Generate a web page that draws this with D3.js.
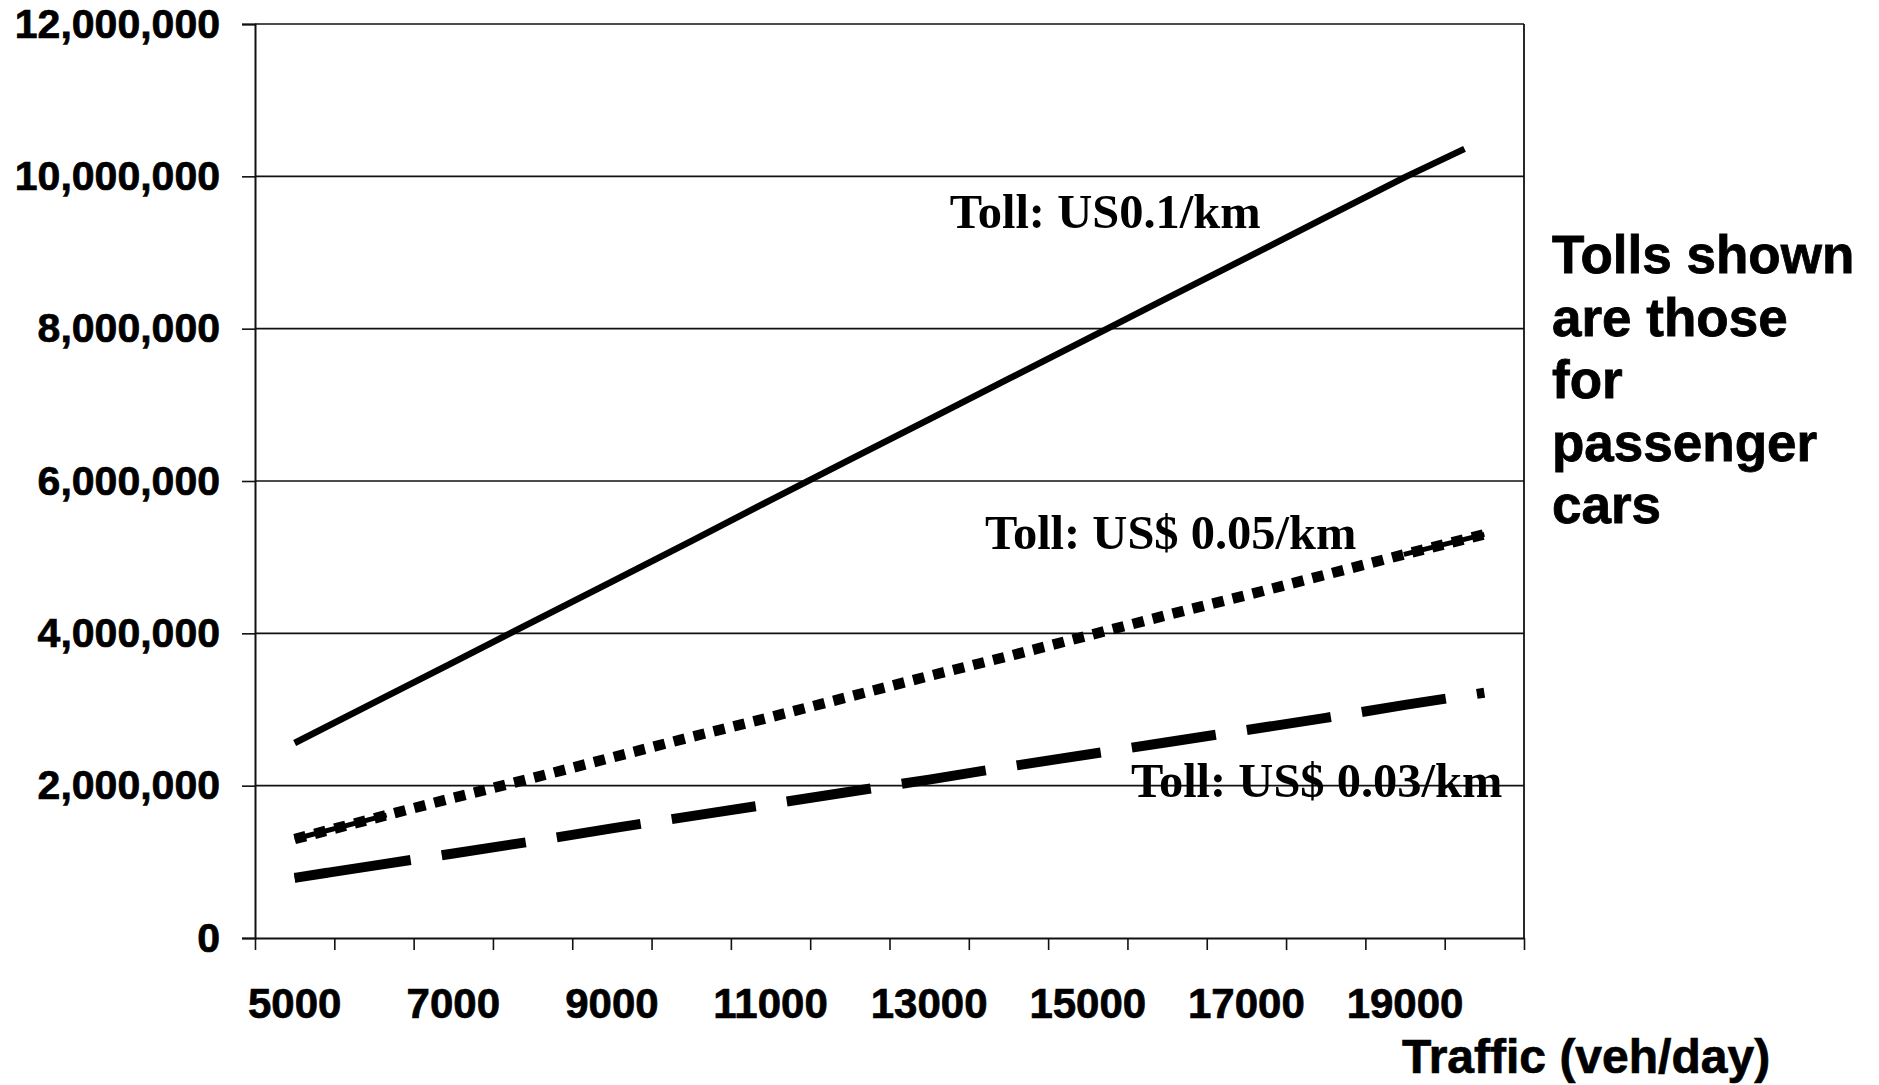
<!DOCTYPE html>
<html><head><meta charset="utf-8">
<script src="https://cdn.jsdelivr.net/npm/d3@7/dist/d3.min.js"></script>
<style>body{margin:0;background:#fff}</style>
</head><body>
<svg id="c" width="1879" height="1085"></svg>
<script>
// ---- data ----
const traffic = [5000, 6000, 7000, 8000, 9000, 10000, 11000, 12000, 13000, 14000, 15000, 16000, 17000, 18000, 19000, 20000];
const trafficToll010 = [5000, 6000, 7000, 8000, 9000, 10000, 11000, 12000, 13000, 14000, 15000, 16000, 17000, 18000, 19000, 19750];
const revenueToll010 = [2560000, 3090000, 3620000, 4150000, 4680000, 5210000, 5750000, 6280000, 6810000, 7340000, 7870000, 8400000, 8930000, 9460000, 9990000, 10360000];
const revenueToll005 = [1300000, 1570000, 1840000, 2100000, 2370000, 2640000, 2900000, 3170000, 3440000, 3700000, 3970000, 4240000, 4500000, 4770000, 5040000, 5300000];
const revenueToll003 = [790000, 950000, 1110000, 1270000, 1440000, 1600000, 1760000, 1920000, 2080000, 2250000, 2410000, 2570000, 2730000, 2890000, 3060000, 3220000];
const yTickValues = [0, 2000000, 4000000, 6000000, 8000000, 10000000, 12000000];
const xTickLabels = [5000, 7000, 9000, 11000, 13000, 15000, 17000, 19000];
const xTickMarks = [4500, 5500, 6500, 7500, 8500, 9500, 10500, 11500, 12500, 13500, 14500, 15500, 16500, 17500, 18500, 19500, 20500];
const seriesNames = ["Toll: US0.1/km", "Toll: US$ 0.05/km", "Toll: US$ 0.03/km"];
const noteLines = ["Tolls shown", "are those", "for", "passenger", "cars"];
const xTitle = "Traffic (veh/day)";

// ---- layout ----
const svg = d3.select("#c");
const L = 255, R = 1524, T = 24, B = 938;
const x = d3.scaleLinear().domain([4500, 20500]).range([L, R]);
const y = d3.scaleLinear().domain([0, 12000000]).range([B, T]);
const SANS = "'Liberation Sans', Arial, sans-serif";
const SERIF = "'Liberation Serif', 'Times New Roman', serif";

// gridlines
svg.append("g").selectAll("line").data(yTickValues.filter(d => d > 0)).join("line")
  .attr("x1", L).attr("x2", R).attr("y1", d => y(d)).attr("y2", d => y(d))
  .attr("stroke", "#111").attr("stroke-width", 1.6);

// right border
svg.append("line").attr("x1", R).attr("x2", R).attr("y1", T).attr("y2", B)
  .attr("stroke", "#111").attr("stroke-width", 1.8);

// y axis
const yAxis = svg.append("g").attr("transform", `translate(${L},0)`)
  .call(d3.axisLeft(y).tickValues(yTickValues).tickFormat(d3.format(",")).tickSize(13).tickPadding(22));
yAxis.select(".domain").attr("stroke", "#111").attr("stroke-width", 2);
yAxis.selectAll(".tick line").attr("stroke", "#111").attr("stroke-width", 1.6);
yAxis.selectAll("text").attr("font-family", SANS).attr("font-weight", "bold")
  .attr("font-size", 41).attr("fill", "#000")
  .attr("stroke", "#000").attr("stroke-width", 0.7);

// x axis (tick marks between categories)
const xAxis = svg.append("g").attr("transform", `translate(0,${B})`)
  .call(d3.axisBottom(x).tickValues(xTickMarks).tickFormat("").tickSize(12).tickSizeOuter(0));
xAxis.select(".domain").attr("stroke", "#111").attr("stroke-width", 2);
xAxis.selectAll(".tick line").attr("stroke", "#111").attr("stroke-width", 1.6);

svg.append("g").selectAll("text").data(xTickLabels).join("text")
  .attr("x", d => x(d)).attr("y", 1018).attr("text-anchor", "middle")
  .attr("font-family", SANS).attr("font-weight", "bold").attr("font-size", 42)
  .attr("stroke", "#000").attr("stroke-width", 0.7)
  .text(d => d);

// x title
svg.append("text").attr("x", 1402).attr("y", 1073)
  .attr("font-family", SANS).attr("font-weight", "bold").attr("font-size", 48)
  .attr("stroke", "#000").attr("stroke-width", 0.7)
  .text(xTitle);

// note on the right
svg.append("g").selectAll("text").data(noteLines).join("text")
  .attr("x", 1552).attr("y", (d, i) => 273 + i * 62.5)
  .attr("font-family", SANS).attr("font-weight", "bold").attr("font-size", 53)
  .attr("stroke", "#000").attr("stroke-width", 0.8)
  .text(d => d);

// ---- lines ----
const line = d3.line().x(d => x(d[0])).y(d => y(d[1]));
const d010 = d3.zip(trafficToll010, revenueToll010);
const d005 = d3.zip(traffic, revenueToll005);
const d003 = d3.zip(traffic, revenueToll003);

svg.append("path").datum(d010).attr("d", line).attr("fill", "none")
  .attr("stroke", "#000").attr("stroke-width", 6.5);

// dotted (square dots)
const p005 = svg.append("path").datum(d005).attr("d", line).attr("fill", "none")
  .attr("stroke", "#000").attr("stroke-width", 10.5).attr("stroke-dasharray", "11.5,9.1");
const len005 = p005.node().getTotalLength();
svg.append("path").datum(d005).attr("d", line).attr("fill", "none")
  .attr("stroke", "#000").attr("stroke-width", 5)
  .attr("stroke-dasharray", `95,${len005 - 95 - 83},83`);

// dashed
svg.append("path").datum(d003).attr("d", line).attr("fill", "none")
  .attr("stroke", "#000").attr("stroke-width", 10)
  .attr("stroke-dasharray", "85,31.4").attr("stroke-dashoffset", 84);
svg.append("path").datum(d003).attr("d", line).attr("fill", "none")
  .attr("stroke", "#000").attr("stroke-width", 10)
  .attr("stroke-dasharray", "33,100000");

// series labels
const labelPos = [[13260, 9320000], [13704, 5107000], [15545, 1851000]];
svg.append("g").selectAll("text").data(seriesNames).join("text")
  .attr("x", (d, i) => x(labelPos[i][0])).attr("y", (d, i) => y(labelPos[i][1]))
  .attr("font-family", SERIF).attr("font-weight", "bold").attr("font-size", 48.5)
  .text(d => d);
</script>
</body></html>
